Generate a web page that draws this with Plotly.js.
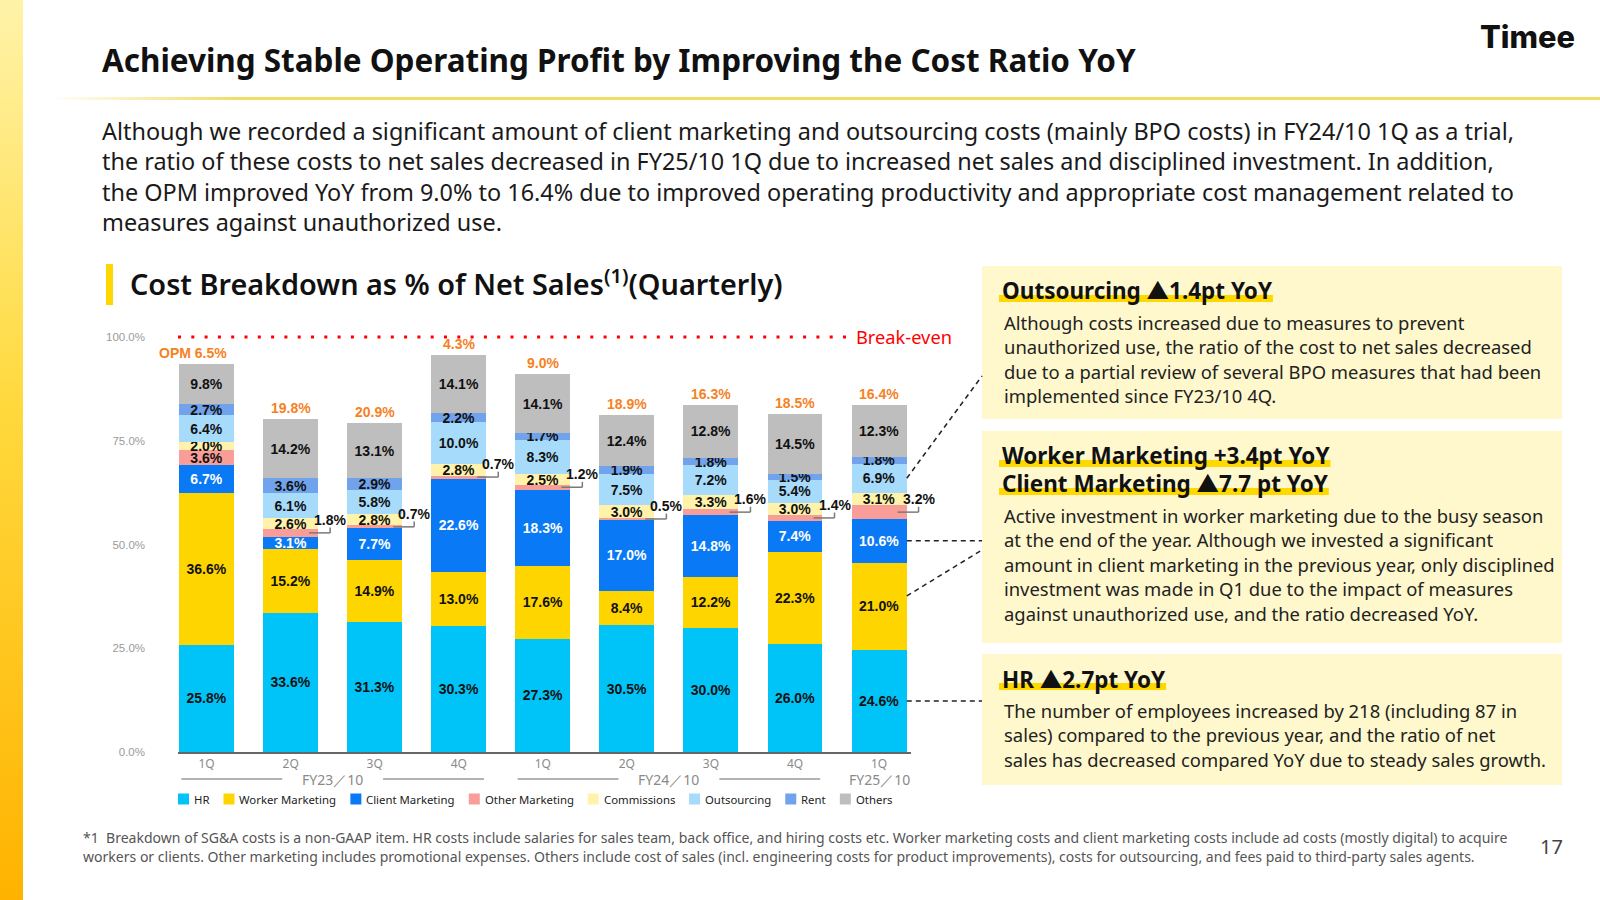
<!DOCTYPE html>
<html><head><meta charset="utf-8">
<script src="https://cdn.plot.ly/plotly-3.0.1.min.js"></script>
<style>
html,body{margin:0;padding:0;background:#fff;width:1600px;height:900px;overflow:hidden;}
#stripe{position:absolute;left:0;top:0;width:23px;height:900px;background:linear-gradient(to bottom,#FFF3A8 0%,#FFD93D 45%,#FFB300 100%);}
#rule{position:absolute;left:50px;top:97px;width:1550px;height:3px;background:linear-gradient(to right,rgba(243,220,100,0) 0%,#F3DC66 12%,#F3DC66 100%);}
#chart{position:absolute;left:0;top:0;width:1600px;height:900px;}
</style></head><body>
<div id="stripe"></div><div id="rule"></div><div id="chart"></div>
<script>
// ---------------- data ----------------
const fiscalYears = ['FY23／10','FY23／10','FY23／10','FY23／10','FY24／10','FY24／10','FY24／10','FY24／10','FY25／10'];
const quarters = ['1Q','2Q','3Q','4Q','1Q','2Q','3Q','4Q','1Q'];
const hr              = [25.8,33.6,31.3,30.3,27.3,30.5,30.0,26.0,24.6];
const workerMarketing = [36.6,15.2,14.9,13.0,17.6, 8.4,12.2,22.3,21.0];
const clientMarketing = [ 6.7, 3.1, 7.7,22.6,18.3,17.0,14.8, 7.4,10.6];
const otherMarketing  = [ 3.6, 1.8, 0.7, 0.7, 1.2, 0.5, 1.6, 1.4, 3.2];
const commissions     = [ 2.0, 2.6, 2.8, 2.8, 2.5, 3.0, 3.3, 3.0, 3.1];
const outsourcing     = [ 6.4, 6.1, 5.8,10.0, 8.3, 7.5, 7.2, 5.4, 6.9];
const rent            = [ 2.7, 3.6, 2.9, 2.2, 1.7, 1.9, 1.8, 1.5, 1.8];
const others          = [ 9.8,14.2,13.1,14.1,14.1,12.4,12.8,14.5,12.3];
const opm             = [ 6.5,19.8,20.9, 4.3, 9.0,18.9,16.3,18.5,16.4];
const seriesNames = ['HR','Worker Marketing','Client Marketing','Other Marketing','Commissions','Outsourcing','Rent','Others'];
const seriesValues = [hr, workerMarketing, clientMarketing, otherMarketing, commissions, outsourcing, rent, others];
const otherMarketingInside = [true,false,false,false,false,false,false,false,false];
const yTicks = [0,25,50,75,100];

// ---------------- styles ----------------
const seriesColors = ['#00C4F8','#FFD500','#0A79F6','#F89D97','#FFF2AA','#A7DBFB','#70A3EB','#BEBEBE'];
const labelColors  = ['#111','#111','#FFFFFF','#111','#111','#111','#111','#111'];
const ORANGE = '#F5821F';
const W = 1600, H = 900;
const XRANGE = [-0.34, 8.38];
const XL = 178, XR = 911;
const Y0PX = 752, PX_PER_PCT = 4.15, YMAX = 110;
const domX = [XL / W, XR / W];
const domY = [1 - Y0PX / H, 1 - (Y0PX - YMAX * PX_PER_PCT) / H];
const px = x => x / W;
const py = y => 1 - y / H;
const xp = i => (XL + (i - XRANGE[0]) / (XRANGE[1] - XRANGE[0]) * (XR - XL)) / W;
const yp = v => domY[0] + v / YMAX * (domY[1] - domY[0]);

const SANS = 'Noto Sans';
const CJK = 'Noto Sans CJK JP';
const ARIAL = 'Liberation Sans, Arial, sans-serif';
const cv = document.createElement('canvas').getContext('2d');
function measure(text, size, weight, family) { cv.font = weight + ' ' + size + 'px "' + family + '"'; return cv.measureText(text).width; }
function fit(text, weight, family, target) { return 20 * target / measure(text, 20, weight, family); }
// headings: the triangle is drawn with the CJK face, the rest with Noto Sans
function headParts(h) { return h.split(/(▲)/).filter(s => s.length); }
function headWidth(h, size) { return headParts(h).reduce((a, s) => a + (s === '▲' ? measure(s, size, 'bold', CJK) : measure(s, size, 'bold', SANS)), 0); }
function headHtml(h) { return headParts(h).map(s => s === '▲' ? '<span style="font-family:\'' + CJK + '\'">▲</span>' : s).join(''); }

const cats = quarters.map((q, i) => fiscalYears[i] + ' ' + q);

// ---------------- traces ----------------
const traces = seriesValues.map((vals, s) => ({
  type: 'bar', x: cats, y: vals, name: seriesNames[s],
  marker: { color: seriesColors[s], line: { width: 0 } },
  text: vals.map((v, i) => (s === 3 && !otherMarketingInside[i]) ? null : v.toFixed(1) + '%'),
  textposition: 'inside', insidetextanchor: 'middle', constraintext: 'none', textangle: 0,
  textfont: { family: ARIAL, size: 14, color: labelColors[s], weight: 'bold' },
  hoverinfo: 'name+y', showlegend: false, cliponaxis: false
}));

const totals = cats.map((c, i) => seriesValues.reduce((a, arr) => a + arr[i], 0));

const annotations = [];
const shapes = [];
function txt(x, y, text, size, o) {
  o = o || {};
  annotations.push({ xref: 'paper', yref: 'paper', x: px(x), y: py(y), text: text, showarrow: false,
    xanchor: o.xanchor || 'left', yanchor: 'middle',
    font: { family: o.family || SANS, size: size, color: o.color || '#1a1a1a', weight: o.weight || 'normal' } });
}
function rect(x0, y0, x1, y1, color) {
  shapes.push({ type: 'rect', xref: 'paper', yref: 'paper', x0: px(x0), x1: px(x1), y0: py(y0), y1: py(y1),
    fillcolor: color, line: { width: 0 }, layer: 'below' });
}
function line(x0, y0, x1, y1, color, width, dash) {
  shapes.push({ type: 'line', xref: 'paper', yref: 'paper', x0: x0, x1: x1, y0: y0, y1: y1,
    line: { color: color, width: width, dash: dash || 'solid' } });
}

// ---------------- header ----------------
const titleText = 'Achieving Stable Operating Profit by Improving the Cost Ratio YoY';
txt(100, 60, titleText, fit(titleText, 'bold', SANS, 1034), { weight: 'bold', color: '#111' });
txt(1577, 37, 'Timee', fit('Timee', '800', 'Inter', 95), { xanchor: 'right', family: 'Inter', weight: 800, color: '#111' });

const paragraph = [
  'Although we recorded a significant amount of client marketing and outsourcing costs (mainly BPO costs) in FY24/10 1Q as a trial,',
  'the ratio of these costs to net sales decreased in FY25/10 1Q due to increased net sales and disciplined investment. In addition,',
  'the OPM improved YoY from 9.0% to 16.4% due to improved operating productivity and appropriate cost management related to',
  'measures against unauthorized use.'
];
const paraSize = fit(paragraph[0], 'normal', SANS, 1413);
paragraph.forEach((l, k) => txt(100, 131 + 30.4 * k, l, paraSize));

// subtitle
rect(106, 264, 113, 305, '#FFD600');
const subSize = fit('Cost Breakdown as % of Net Sales', '600', SANS, 474);
txt(128, 282, 'Cost Breakdown as % of Net Sales<sup>(1)</sup>(Quarterly)', subSize, { weight: 600, color: '#111' });

// ---------------- chart decorations ----------------
// break-even
line(xp(XRANGE[0]), yp(100), px(847), yp(100), '#FF0000', 3, '3px,10.3px');
annotations.push({ xref: 'paper', yref: 'paper', x: px(854), y: yp(100), text: 'Break-even', showarrow: false,
  xanchor: 'left', yanchor: 'middle', font: { family: SANS, size: fit('Break-even', 'normal', SANS, 96), color: '#FF0000' } });

// OPM labels
opm.forEach((v, i) => annotations.push({ xref: 'x', yref: 'y', x: i, y: totals[i], xanchor: 'center', yanchor: 'bottom', yshift: 1,
  xshift: i === 0 ? -14 : 0, text: (i === 0 ? 'OPM ' : '') + v.toFixed(1) + '%', showarrow: false,
  font: { family: ARIAL, size: 14, color: ORANGE, weight: 'bold' } }));

// Other marketing callouts
otherMarketing.forEach((v, i) => {
  if (otherMarketingInside[i]) return;
  const c = hr[i] + workerMarketing[i] + clientMarketing[i] + v / 2;
  line(xp(i + 0.22), yp(c), xp(i + 0.47), yp(c), '#7a7a7a', 1.5);
  line(xp(i + 0.47), yp(c), xp(i + 0.47), yp(c + 1.3), '#7a7a7a', 1.5);
  annotations.push({ xref: 'paper', yref: 'paper', x: xp(i + 0.47), y: yp(c), yshift: 13, text: v.toFixed(1) + '%',
    xanchor: 'center', yanchor: 'middle', showarrow: false, font: { family: ARIAL, size: 14, color: '#111', weight: 'bold' } });
});

// fiscal-year group labels
const groups = [];
fiscalYears.forEach((fy, i) => {
  const g = groups[groups.length - 1];
  if (g && g.name === fy) g.end = i; else groups.push({ name: fy, start: i, end: i });
});
groups.forEach(g => {
  const mid = (g.start + g.end) / 2;
  annotations.push({ xref: 'paper', yref: 'paper', x: xp(mid), y: py(779), text: g.name, showarrow: false,
    xanchor: 'center', yanchor: 'middle', font: { family: SANS, size: 14, color: '#8a8a8a' } });
  if (g.end > g.start) {
    line(xp(g.start - 0.3), py(779), xp(mid - 0.6), py(779), '#9a9a9a', 1.5);
    line(xp(mid + 0.6), py(779), xp(g.end + 0.3), py(779), '#9a9a9a', 1.5);
  }
});

// custom legend
(function () {
  const lsize = fit('Worker Marketing', 'normal', SANS, 97);
  let x = 178;
  seriesNames.forEach((n, s) => {
    rect(x, 793.5, x + 11, 804.5, seriesColors[s]);
    txt(x + 14, 799, n, lsize, { color: '#222' });
    x += 16 + measure(n, lsize, 'normal', SANS) + 14;
  });
})();

// ---------------- right panels ----------------
const panels = [
  { top: 266, bottom: 419, headY: [290], heads: ['Outsourcing ▲1.4pt YoY'], bodyY: 322,
    body: ['Although costs increased due to measures to prevent',
           'unauthorized use, the ratio of the cost to net sales decreased',
           'due to a partial review of several BPO measures that had been',
           'implemented since FY23/10 4Q.'] },
  { top: 431, bottom: 643, headY: [455, 483], heads: ['Worker Marketing +3.4pt YoY', 'Client Marketing ▲7.7 pt YoY'], bodyY: 515,
    body: ['Active investment in worker marketing due to the busy season',
           'at the end of the year. Although we invested a significant',
           'amount in client marketing in the previous year, only disciplined',
           'investment was made in Q1 due to the impact of measures',
           'against unauthorized use, and the ratio decreased YoY.'] },
  { top: 654, bottom: 785, headY: [678], heads: ['HR ▲2.7pt YoY'], bodyY: 710,
    body: ['The number of employees increased by 218 (including 87 in',
           'sales) compared to the previous year, and the ratio of net',
           'sales has decreased compared YoY due to steady sales growth.'] }
];
const headSize = 20 * 270 / headWidth('Outsourcing ▲1.4pt YoY', 20);
const bodySize = fit('unauthorized use, the ratio of the cost to net sales decreased', 'normal', SANS, 528);
panels.forEach(p => {
  rect(982, p.top, 1562, p.bottom, '#FFF8CC');
  p.heads.forEach((h, k) => {
    const w = headWidth(h, headSize);
    rect(999, p.headY[k] + 12, 1003 + w, p.headY[k] + 5, '#FFD800');
    txt(1000, p.headY[k], headHtml(h), headSize, { weight: 'bold', color: '#111' });
  });
  p.body.forEach((l, k) => txt(1002, p.bodyY + 24.6 * k, l, bodySize, { color: '#222' }));
});

// connectors from last bar to panels
(function () {
  const i = cats.length - 1;
  const xs = xp(i + 0.33), xe = px(982);
  const cOut = hr[i] + workerMarketing[i] + clientMarketing[i] + otherMarketing[i] + commissions[i] + outsourcing[i] / 2;
  const cCli = hr[i] + workerMarketing[i] + clientMarketing[i] / 2;
  const cWrk = hr[i] + workerMarketing[i] / 2;
  const cHr = hr[i] / 2;
  const d = '5px,4px';
  line(xs, yp(cOut), xe, py(376), '#222', 1.5, d);
  line(xs, yp(cCli), xe, yp(cCli), '#222', 1.5, d);
  line(xs, yp(cWrk + 2.5), xe, py(550), '#222', 1.5, d);
  line(xs, yp(cHr), xe, yp(cHr), '#222', 1.5, d);
})();

// ---------------- footnote ----------------
const foot = [
  '*1  Breakdown of SG&amp;A costs is a non-GAAP item. HR costs include salaries for sales team, back office, and hiring costs etc. Worker marketing costs and client marketing costs include ad costs (mostly digital) to acquire',
  'workers or clients. Other marketing includes promotional expenses. Others include cost of sales (incl. engineering costs for product improvements), costs for outsourcing, and fees paid to third-party sales agents.'
];
const footSize = fit(foot[0].replace('&amp;', '&'), 'normal', SANS, 1426);
foot.forEach((l, k) => txt(81, 837 + 19 * k, l, footSize, { color: '#555' }));
txt(1551, 846, '17', 20, { xanchor: 'center', color: '#444' });

const layout = {
  width: W, height: H, autosize: false,
  margin: { l: 0, r: 0, t: 0, b: 0 },
  paper_bgcolor: 'rgba(0,0,0,0)', plot_bgcolor: 'rgba(0,0,0,0)',
  barmode: 'stack', bargap: 0.346, showlegend: false,
  xaxis: { type: 'category', range: XRANGE, domain: domX, tickvals: cats, ticktext: quarters,
    tickfont: { family: SANS, size: 12, color: '#8a8a8a' }, showline: true, linecolor: '#666', linewidth: 1.5,
    ticks: '', showgrid: false, zeroline: false, fixedrange: true },
  yaxis: { range: [0, YMAX], domain: domY, tickvals: yTicks, ticktext: yTicks.map(v => v.toFixed(1) + '%'),
    tickfont: { family: ARIAL, size: 11.5, color: '#9a9a9a' }, showgrid: false, zeroline: false, showline: false,
    ticks: '', ticklabelstandoff: 32, fixedrange: true },
  annotations: annotations, shapes: shapes
};
Plotly.newPlot('chart', traces, layout, { displayModeBar: false, staticPlot: true });
</script></body></html>
